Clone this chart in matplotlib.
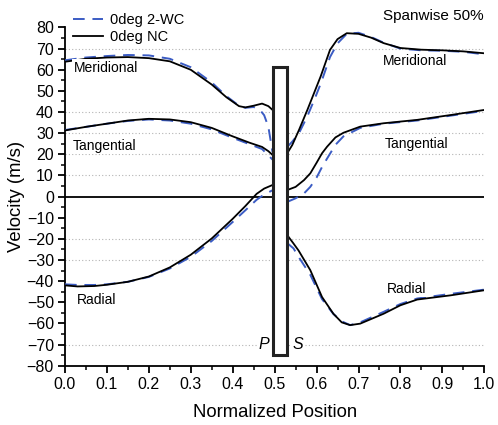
import matplotlib
matplotlib.use("Agg")
import matplotlib.pyplot as plt
from matplotlib.patches import Rectangle
from matplotlib.ticker import MultipleLocator

plt.rcParams["font.family"] = ["Liberation Sans", "DejaVu Sans"]

# pressure side (x < blade) and suction side (x > blade) samples
x_mer_ps = [0.0, 0.05, 0.1, 0.15, 0.2, 0.25, 0.3, 0.35, 0.385, 0.415, 0.43, 0.45, 0.47, 0.485, 0.495]
nc_mer_ps = [63.8, 65.2, 65.8, 66.0, 65.5, 64.0, 60.0, 53.0, 47.0, 42.8, 42.2, 43.0, 44.0, 42.8, 41.0]
x_mer_ps_wc = [0.0, 0.05, 0.1, 0.15, 0.2, 0.25, 0.3, 0.35, 0.385, 0.415, 0.43, 0.45, 0.465, 0.475, 0.485, 0.495]
wc_mer_ps = [64.5, 65.8, 66.5, 67.0, 66.8, 65.2, 61.2, 54.0, 47.5, 43.0, 42.0, 42.4, 41.0, 38.5, 33.0, 21.0]

x_tan_ps = [0.0, 0.05, 0.1, 0.15, 0.2, 0.25, 0.3, 0.35, 0.4, 0.44, 0.47, 0.485, 0.495]
nc_tan_ps = [31.3, 33.0, 34.5, 36.0, 36.8, 36.5, 35.2, 32.5, 28.5, 25.5, 23.5, 21.5, 19.7]
wc_tan_ps = [31.5, 33.0, 34.5, 35.8, 36.5, 36.0, 34.5, 31.8, 27.8, 24.8, 22.5, 19.5, 17.5]

x_rad_ps = [0.0, 0.03, 0.07, 0.1, 0.15, 0.2, 0.25, 0.3, 0.35, 0.4, 0.43, 0.457, 0.475, 0.495]
nc_rad_ps = [-42.0, -42.5, -42.3, -41.7, -40.3, -37.8, -33.5, -27.5, -19.8, -10.5, -4.5, 1.3, 3.8, 5.5]
wc_rad_ps = [-41.5, -41.8, -41.8, -41.5, -40.3, -38.0, -34.0, -28.5, -21.0, -12.0, -6.5, -1.5, 1.0, 3.0]

x_mer_ss = [0.53, 0.542, 0.558, 0.578, 0.597, 0.61, 0.632, 0.65, 0.672, 0.7, 0.73, 0.76, 0.8, 0.85, 0.9, 0.95, 1.0]
nc_mer_ss = [20.5, 24.4, 31.5, 41.0, 50.5, 57.0, 69.4, 74.5, 77.3, 77.0, 75.2, 72.6, 70.3, 69.5, 69.2, 68.7, 67.8]
wc_mer_ss = [23.5, 26.0, 30.0, 38.0, 47.0, 53.5, 66.0, 72.5, 77.0, 77.5, 75.5, 72.8, 70.0, 69.2, 69.0, 68.5, 67.3]

x_tan_ss = [0.53, 0.55, 0.57, 0.585, 0.6, 0.613, 0.625, 0.645, 0.664, 0.704, 0.76, 0.84, 0.92, 1.0]
nc_tan_ss = [3.1, 4.6, 7.8, 11.0, 16.0, 20.5, 23.6, 28.0, 30.2, 33.1, 34.7, 36.3, 38.6, 41.0]
wc_tan_ss = [-2.5, -0.8, 1.5, 4.6, 9.0, 14.0, 18.0, 24.5, 28.5, 32.5, 34.5, 36.0, 38.3, 40.6]

x_rad_ss = [0.53, 0.545, 0.557, 0.585, 0.613, 0.64, 0.66, 0.68, 0.704, 0.76, 0.8, 0.84, 0.92, 1.0]
nc_rad_ss = [-18.2, -22.2, -25.5, -34.8, -47.5, -55.4, -59.5, -60.8, -60.1, -55.4, -51.4, -48.7, -46.7, -44.3]
wc_rad_ss = [-22.0, -24.5, -28.5, -37.0, -48.5, -55.5, -59.0, -60.8, -59.5, -54.5, -50.8, -48.2, -46.0, -44.0]

grid_levels = [70, 40, 30, 20, 10, -20, -30, -70]
blade_x = (0.495, 0.53)
blade_y = (-75, 61.5)

blue = "#3b5cc4"
nc_kw = dict(color="black", lw=1.3, zorder=4)
wc_kw = dict(color=blue, lw=1.4, dashes=(6, 4), zorder=3)

fig = plt.figure(figsize=(4.98, 4.25), dpi=100)
ax = fig.add_axes([0.1305, 0.1395, 0.842, 0.7958])

for g in grid_levels:
    ax.axhline(g, color="#b4b4b4", lw=0.8, ls=(0, (1, 2)), zorder=1)
ax.plot([0, 1], [0, 0], color="black", lw=1.3, zorder=2)

ax.plot(x_mer_ps_wc, wc_mer_ps, **wc_kw, label="0deg 2-WC")
ax.plot(x_mer_ps, nc_mer_ps, **nc_kw, label="0deg NC")
ax.plot(x_tan_ps, wc_tan_ps, **wc_kw)
ax.plot(x_tan_ps, nc_tan_ps, **nc_kw)
ax.plot(x_rad_ps, wc_rad_ps, **wc_kw)
ax.plot(x_rad_ps, nc_rad_ps, **nc_kw)
ax.plot(x_mer_ss, wc_mer_ss, **wc_kw)
ax.plot(x_mer_ss, nc_mer_ss, **nc_kw)
ax.plot(x_tan_ss, wc_tan_ss, **wc_kw)
ax.plot(x_tan_ss, nc_tan_ss, **nc_kw)
ax.plot(x_rad_ss, wc_rad_ss, **wc_kw)
ax.plot(x_rad_ss, nc_rad_ss, **nc_kw)

# blade section
ax.add_patch(Rectangle((blade_x[0], blade_y[0]), blade_x[1] - blade_x[0],
                       blade_y[1] - blade_y[0], facecolor="white",
                       edgecolor="#222222", lw=2.2, zorder=6))

box = dict(facecolor="white", edgecolor="none", pad=1)
lab_kw = dict(fontsize=10, va="center", ha="left", bbox=box, zorder=5)
ax.text(0.02, 61, "Meridional", **lab_kw)
ax.text(0.019, 24, "Tangential", **lab_kw)
ax.text(0.028, -49, "Radial", **lab_kw)
ax.text(0.758, 64, "Meridional", **lab_kw)
ax.text(0.763, 24.7, "Tangential", **lab_kw)
ax.text(0.767, -43.5, "Radial", **lab_kw)
ax.text(0.475, -70, "P", fontsize=11.5, style="italic", ha="center", va="center", bbox=box, zorder=5)
ax.text(0.556, -70, "S", fontsize=11.5, style="italic", ha="center", va="center", bbox=box, zorder=5)

ax.set_xlim(0, 1.0)
ax.set_ylim(-80, 80)
ax.xaxis.set_major_locator(MultipleLocator(0.1))
ax.xaxis.set_minor_locator(MultipleLocator(0.05))
ax.yaxis.set_major_locator(MultipleLocator(10))
ax.yaxis.set_minor_locator(MultipleLocator(5))
ax.set_xticklabels([f"{v:.1f}" for v in ax.get_xticks()])
ax.tick_params(which="major", direction="out", length=5, width=1.3, labelsize=11.5, pad=3)
ax.tick_params(which="minor", direction="out", length=3, width=1.1)
for s in ("top", "right"):
    ax.spines[s].set_visible(False)
for s in ("left", "bottom"):
    ax.spines[s].set_linewidth(1.3)

ax.set_xlabel("Normalized Position", fontsize=13.3, labelpad=9)
ax.set_ylabel("Velocity (m/s)", fontsize=13.3, labelpad=1)

fig.text(0.972, 0.963, "Spanwise 50%", fontsize=11, ha="right", va="center")
fig.legend(loc="upper left", bbox_to_anchor=(0.13, 0.99), frameon=False,
           fontsize=10.5, handlelength=2.0, handletextpad=0.5, labelspacing=0.2,
           borderaxespad=0.2)

fig.savefig("out.png", dpi=100)
